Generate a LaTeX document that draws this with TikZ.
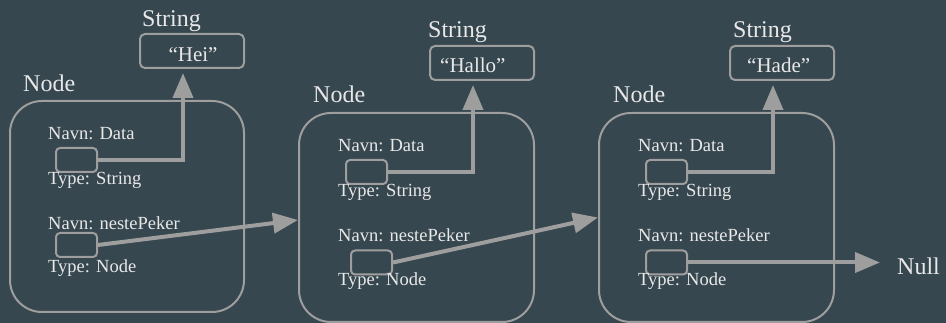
\documentclass[tikz,border=0pt]{standalone}
\usepackage{fontspec}
\setmainfont{Liberation Serif}
\usetikzlibrary{arrows.meta}
\definecolor{bg}{RGB}{55,71,79}
\definecolor{ln}{RGB}{158,158,158}
\definecolor{tx}{RGB}{232,232,232}
\begin{document}
\begin{tikzpicture}[x=1pt,y=-1pt,
 objbox/.style={draw=ln,line width=2pt,rounded corners=32pt,inner sep=0pt},
 strbox/.style={draw=ln,line width=2pt,rounded corners=5pt,inner sep=0pt,minimum width=104pt,minimum height=34pt},
 slot/.style={draw=ln,line width=2pt,rounded corners=4pt,inner sep=0pt,minimum width=41pt,minimum height=24pt},
 field/.style={text=tx,font=\fontsize{18.5}{20}\selectfont,inner sep=0pt,anchor=base west},
 title/.style={text=tx,font=\fontsize{24}{26}\selectfont,inner sep=0pt,anchor=base west},
 value/.style={text=tx,font=\fontsize{21}{23}\selectfont,inner sep=0pt,anchor=base west},
 ptr/.style={draw=ln,line width=4pt,-{Triangle[length=25pt,width=20pt]}}]
\fill[bg] (0,0) rectangle (946,323);
\useasboundingbox (0,0) rectangle (946,323);

% object boxes
\node[objbox,minimum width=234pt,minimum height=211pt] (n1) at (127,206.5) {};
\node[objbox,minimum width=235pt,minimum height=209pt] (n2) at (416.5,217.5) {};
\node[objbox,minimum width=235pt,minimum height=209pt] (n3) at (716.5,217.5) {};
\node[title] (l1) at (23,92) {Node};
\node[title] (l2) at (313,103) {Node};
\node[title] (l3) at (613,103) {Node};

% strings
\node[strbox] (s1) at (192,51) {};
\node[strbox] (s2) at (482,63) {};
\node[strbox] (s3) at (782,63) {};
\node[title] (t1) at (142,27) {String};
\node[title] (t2) at (428,38) {String};
\node[title] (t3) at (733,38) {String};
\node[value,anchor=base] (v1) at (193,62) {“Hei”};
\node[value] (v2) at (440,73) {“Hallo”};
\node[value] (v3) at (747,73) {“Hade”};

% node 1 fields
\node[field] (a1) at (48,140) {Navn: Data};
\node[slot] (d1) at (76.5,160) {};
\node[field] (b1) at (48,185) {Type: String};
\node[field] (c1) at (48,230) {Navn: nestePeker};
\node[slot] (p1) at (76.5,245) {};
\node[field] (e1) at (48,273) {Type: Node};

% node 2 fields
\node[field] (a2) at (338,152) {Navn: Data};
\node[slot] (d2) at (366.5,172) {};
\node[field] (b2) at (338,197) {Type: String};
\node[field] (c2) at (338,242) {Navn: nestePeker};
\node[slot] (p2) at (371.5,262.5) {};
\node[field] (e2) at (338,286) {Type: Node};

% node 3 fields
\node[field] (a3) at (638,152) {Navn: Data};
\node[slot] (d3) at (666.5,172) {};
\node[field] (b3) at (638,197) {Type: String};
\node[field] (c3) at (638,242) {Navn: nestePeker};
\node[slot] (p3) at (666.5,262.5) {};
\node[field] (e3) at (638,286) {Type: Node};

\node[title] (null) at (897,275) {Null};

% connectors
\draw[ptr,shorten >=4pt] (d1.east) -| ([xshift=-9pt]s1.south);
\draw[ptr,shorten >=4pt] (d2.east) -| ([xshift=-9pt]s2.south);
\draw[ptr,shorten >=4pt] (d3.east) -| ([xshift=-9pt]s3.south);
\draw[ptr] (p1.east) -- ([yshift=-2.5pt]n2.west);
\draw[ptr] (p2.east) -- (n3.west);
\draw[ptr,shorten >=17pt] (p3.east) -- (p3.east -| null.west);
\end{tikzpicture}
\end{document}
